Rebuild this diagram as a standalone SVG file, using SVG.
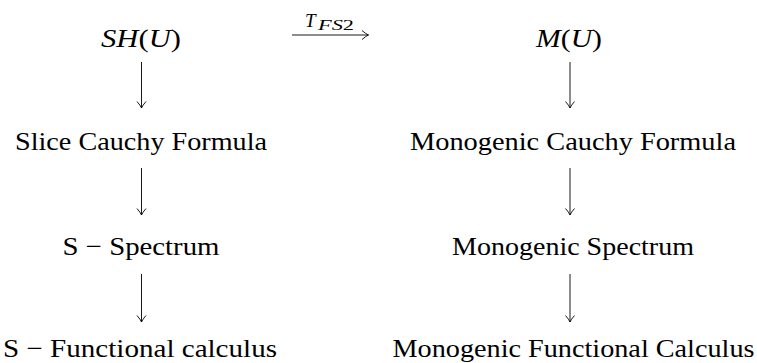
<svg xmlns="http://www.w3.org/2000/svg" width="757" height="363" viewBox="0 0 757 363">
<style>
.t{font-family:"Liberation Serif","Times New Roman",serif;font-size:26px;fill:#000;text-anchor:middle}
.i{font-style:italic}
.c{stroke:#000;stroke-width:0.9;fill:none}
</style>
<defs>
<marker id="ah" viewBox="-9 -6 11 12" refX="0" refY="0" markerWidth="11" markerHeight="12" markerUnits="userSpaceOnUse" orient="auto">
<path d="M-6.5,-4.5 Q-2.5,-1 0,0 Q-2.5,1 -6.5,4.5" stroke="#000" stroke-width="0.9" fill="none"/>
</marker>
</defs>
<rect width="757" height="363" fill="#fff"/>
<g id="connectors">
<line class="c" x1="292" y1="35" x2="368.5" y2="35" marker-end="url(#ah)"/>
<text x="305" y="27" font-family="Liberation Serif, serif" font-size="19" font-style="italic">T</text>
<text x="318" y="30" font-family="Liberation Serif, serif" font-size="14" textLength="36" lengthAdjust="spacingAndGlyphs"><tspan font-style="italic">FS</tspan>2</text>
<line class="c" x1="141.5" y1="62" x2="141.5" y2="108" marker-end="url(#ah)"/>
<line class="c" x1="141.5" y1="168" x2="141.5" y2="215" marker-end="url(#ah)"/>
<line class="c" x1="141.5" y1="274" x2="141.5" y2="322" marker-end="url(#ah)"/>
<line class="c" x1="570" y1="62" x2="570" y2="108" marker-end="url(#ah)"/>
<line class="c" x1="570" y1="168" x2="570" y2="215" marker-end="url(#ah)"/>
<line class="c" x1="570" y1="274" x2="570" y2="322" marker-end="url(#ah)"/>
</g>
<g id="n1"><text class="t" x="141" y="47" textLength="80" lengthAdjust="spacingAndGlyphs"><tspan class="i">SH</tspan>(<tspan class="i">U</tspan>)</text></g>
<g id="n2"><text class="t" x="141" y="150" textLength="252" lengthAdjust="spacingAndGlyphs">Slice Cauchy Formula</text></g>
<g id="n3"><text class="t" x="141" y="255" textLength="157" lengthAdjust="spacingAndGlyphs">S − Spectrum</text></g>
<g id="n4"><text class="t" x="140" y="357" textLength="274" lengthAdjust="spacingAndGlyphs">S − Functional calculus</text></g>
<g id="n5"><text class="t" x="569" y="47" textLength="66" lengthAdjust="spacingAndGlyphs"><tspan class="i">M</tspan>(<tspan class="i">U</tspan>)</text></g>
<g id="n6"><text class="t" x="573" y="150" textLength="326" lengthAdjust="spacingAndGlyphs">Monogenic Cauchy Formula</text></g>
<g id="n7"><text class="t" x="573" y="255" textLength="242" lengthAdjust="spacingAndGlyphs">Monogenic Spectrum</text></g>
<g id="n8"><text class="t" x="573.5" y="357" textLength="362" lengthAdjust="spacingAndGlyphs">Monogenic Functional Calculus</text></g>
</svg>
